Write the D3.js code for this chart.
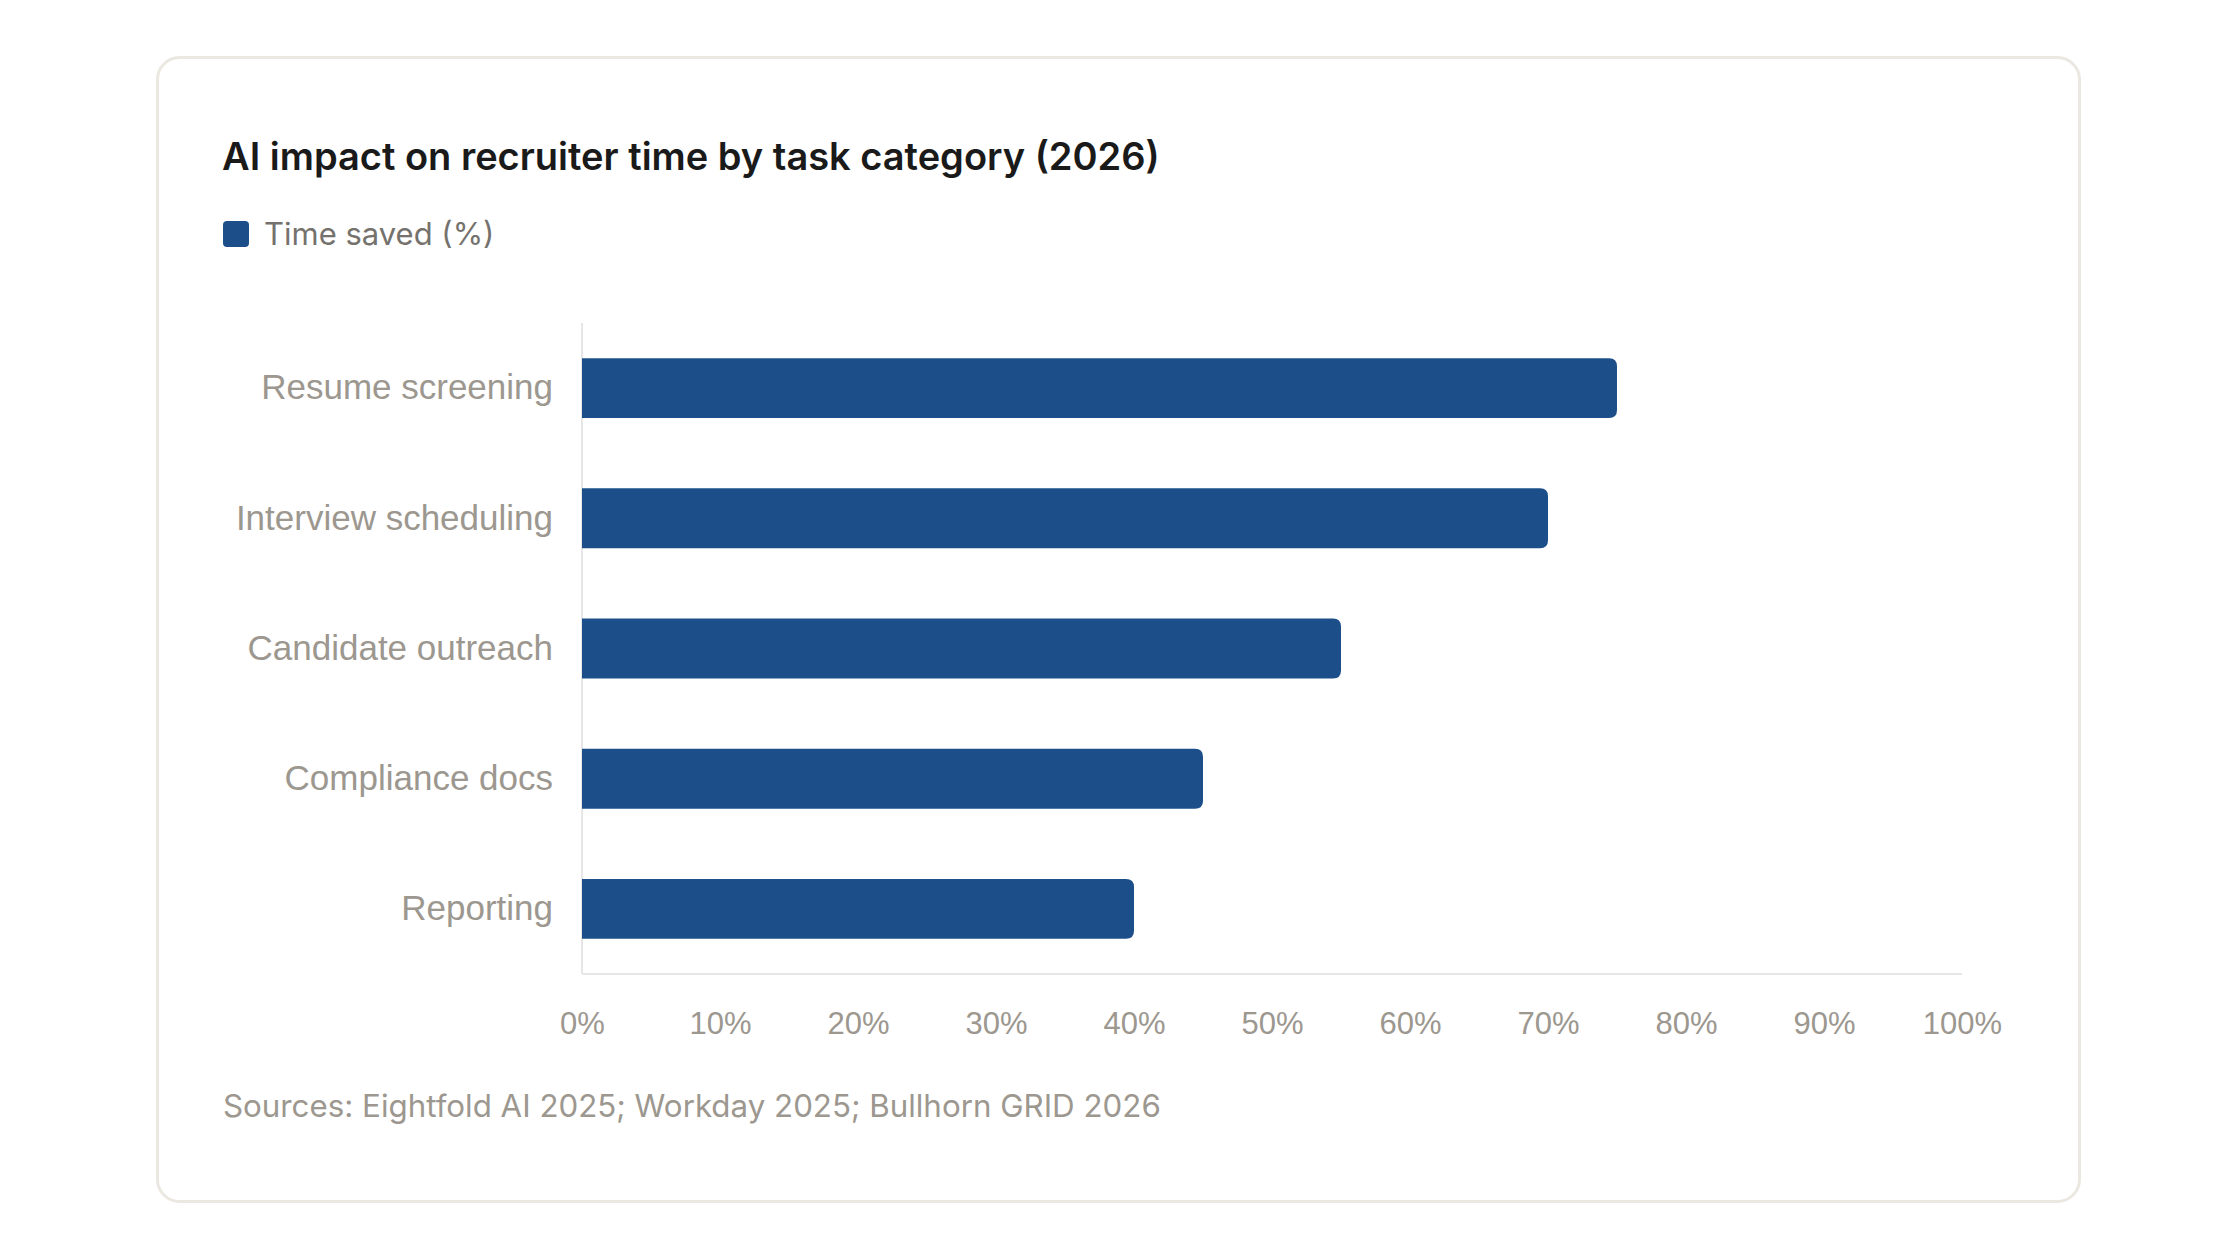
<!DOCTYPE html>
<html>
<head>
<meta charset="utf-8">
<script src="https://cdn.jsdelivr.net/npm/d3@7"></script>
<style>
  html, body { margin: 0; padding: 0; background: #fff; }
  svg { display: block; }
</style>
</head>
<body>
<svg id="chart" width="2240" height="1260"></svg>
<script>
const categories = ['Resume screening', 'Interview scheduling', 'Candidate outreach', 'Compliance docs', 'Reporting']
const timeSaved = [75, 70, 55, 45, 40]
const xTicks = [0, 10, 20, 30, 40, 50, 60, 70, 80, 90, 100]

const title = 'AI impact on recruiter time by task category (2026)'
const seriesName = 'Time saved (%)'
const sourceNote = 'Sources: Eightfold AI 2025; Workday 2025; Bullhorn GRID 2026'

const barColor = '#1c4f8a'
const mutedText = '#9c978f'

const svg = d3.select('#chart')

// card
svg.append('rect')
  .attr('x', 157.5)
  .attr('y', 57.5)
  .attr('width', 1922)
  .attr('height', 1144)
  .attr('rx', 22)
  .style('fill', '#fff')
  .style('stroke', '#ebe8e2')
  .style('stroke-width', 3)

svg.append('text')
  .attr('x', 222)
  .attr('y', 170)
  .style('font-family', 'Inter, sans-serif')
  .style('font-weight', '600')
  .style('font-size', '38px')
  .style('fill', '#1a1a1a')
  .text(title)

// legend
svg.append('rect')
  .attr('x', 223)
  .attr('y', 221)
  .attr('width', 26)
  .attr('height', 26)
  .attr('rx', 4)
  .style('fill', barColor)

svg.append('text')
  .attr('x', 264)
  .attr('y', 245)
  .style('font-family', 'Inter, sans-serif')
  .style('font-size', '31px')
  .style('fill', '#75726d')
  .text(seriesName)

const margin = { left: 582, right: 1962, top: 323, bottom: 974 }

const x = d3.scaleLinear()
  .domain([0, 100])
  .range([margin.left, margin.right])

const y = d3.scaleBand()
  .domain(categories)
  .range([margin.top, margin.bottom])
  .paddingInner(0.54)
  .paddingOuter(0.27)

const chart = svg.append('g')

// axis lines
chart.append('line')
  .attr('x1', x(0)).attr('x2', x(0))
  .attr('y1', margin.top).attr('y2', margin.bottom)
  .style('stroke', '#e6e6e6')
  .style('stroke-width', 2)

chart.append('line')
  .attr('x1', x(0)).attr('x2', x(100))
  .attr('y1', margin.bottom).attr('y2', margin.bottom)
  .style('stroke', '#e6e6e6')
  .style('stroke-width', 2)

// bars, square on the left and rounded on the right
const r = 8
const barPath = (v, cat) => {
  const x0 = x(0)
  const x1 = x(v)
  const y0 = y(cat)
  const h = y.bandwidth()
  return `M${x0},${y0}H${x1 - r}Q${x1},${y0} ${x1},${y0 + r}` +
    `V${y0 + h - r}Q${x1},${y0 + h} ${x1 - r},${y0 + h}H${x0}Z`
}

chart.selectAll('.bar')
  .data(categories.map((c, i) => ({ cat: c, value: timeSaved[i] })))
  .enter()
  .append('path')
  .classed('bar', true)
  .attr('d', d => barPath(d.value, d.cat))
  .style('fill', barColor)

// category labels
const yAxis = d3.axisLeft(y).tickSize(0).tickPadding(29)
chart.append('g')
  .attr('transform', `translate(${x(0)},0)`)
  .call(yAxis)
  .call(g => g.select('.domain').remove())
  .call(g => g.selectAll('text')
    .style('font-family', '"Liberation Sans", Arial, sans-serif')
    .style('font-size', '35px')
    .style('fill', mutedText))

// value ticks
const xAxis = d3.axisBottom(x).tickValues(xTicks).tickSize(0).tickPadding(38)
  .tickFormat(d => d + '%')
chart.append('g')
  .attr('transform', `translate(0,${margin.bottom})`)
  .call(xAxis)
  .call(g => g.select('.domain').remove())
  .call(g => g.selectAll('text')
    .style('font-family', '"Liberation Sans", Arial, sans-serif')
    .style('font-size', '31px')
    .style('fill', mutedText))

svg.append('text')
  .attr('x', 223)
  .attr('y', 1117)
  .style('font-family', 'Inter, sans-serif')
  .style('font-size', '31.3px')
  .style('fill', mutedText)
  .text(sourceNote)
</script>
</body>
</html>
